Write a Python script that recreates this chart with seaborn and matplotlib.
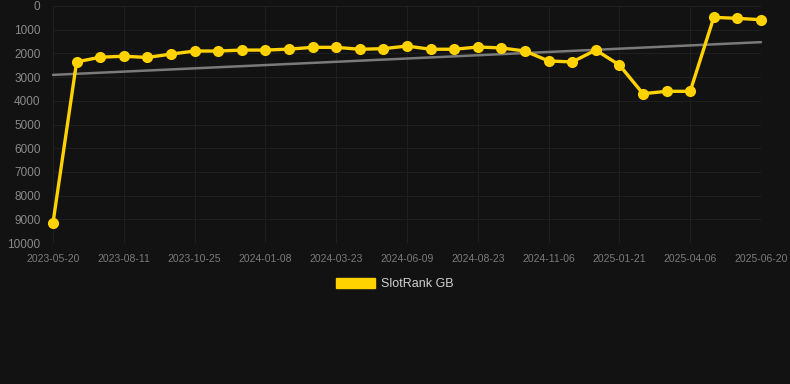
import numpy as np
import pandas as pd
import seaborn as sns
import matplotlib.pyplot as plt
from matplotlib.patches import Patch

# Data (rank, lower is better)
ranks = [9150, 2360, 2160, 2120, 2170, 2030, 1900, 1900, 1860, 1860, 1820,
         1745, 1745, 1825, 1800, 1690, 1825, 1825, 1730, 1770, 1900, 2320,
         2360, 1860, 2490, 3700, 3600, 3600, 480, 520, 580]
tick_labels = ["2023-05-20", "2023-08-11", "2023-10-25", "2024-01-08",
               "2024-03-23", "2024-06-09", "2024-08-23", "2024-11-06",
               "2025-01-21", "2025-04-06", "2025-06-20"]
series_name = "SlotRank GB"

df = pd.DataFrame({"idx": np.arange(len(ranks)), "rank": ranks})

bg = "#121212"
grid = "#1f1f1f"
yellow = "#FFD200"

sns.set_theme(style="dark")
plt.rcParams['font.family'] = ['Liberation Sans', 'DejaVu Sans']

fig = plt.figure(figsize=(7.9, 3.84), dpi=100, facecolor=bg)
ax = fig.add_axes([53 / 790, 1 - 243 / 384, (761 - 53) / 790, (243 - 6) / 384])
ax.set_facecolor(bg)

# trend line
sns.regplot(data=df, x="idx", y="rank", scatter=False, ci=None, ax=ax,
            line_kws=dict(color="#7a7a7a", lw=1.8, zorder=2))

sns.lineplot(data=df, x="idx", y="rank", ax=ax, color=yellow, lw=2.4,
             marker="o", markersize=8, markeredgewidth=0, zorder=3)
for ln in ax.lines:
    ln.set_clip_on(False)

ax.set_xlim(0, len(ranks) - 1)
ax.set_ylim(10000, 0)
ax.set_yticks(range(0, 10001, 1000))
ax.set_xticks(range(0, len(ranks), 3))
ax.set_xticklabels(tick_labels)
ax.set_xlabel("")
ax.set_ylabel("")

ax.grid(True, color=grid, lw=0.8)
for s in ax.spines.values():
    s.set_visible(False)
ax.tick_params(axis="y", colors="#8a8a8a", labelsize=8.5, length=0, pad=9)
ax.tick_params(axis="x", colors=grid, labelcolor="#7a7a7a", labelsize=7.5,
               length=5, width=0.8, pad=3)

fig.legend(handles=[Patch(facecolor=yellow, edgecolor=yellow, label=series_name)],
           loc="center", bbox_to_anchor=(0.5, 1 - 284 / 384), frameon=False,
           fontsize=9, labelcolor="#d0d0d0", handlelength=3.1, handleheight=0.9,
           handletextpad=0.5)

fig.savefig("out.png", dpi=100, facecolor=bg)
